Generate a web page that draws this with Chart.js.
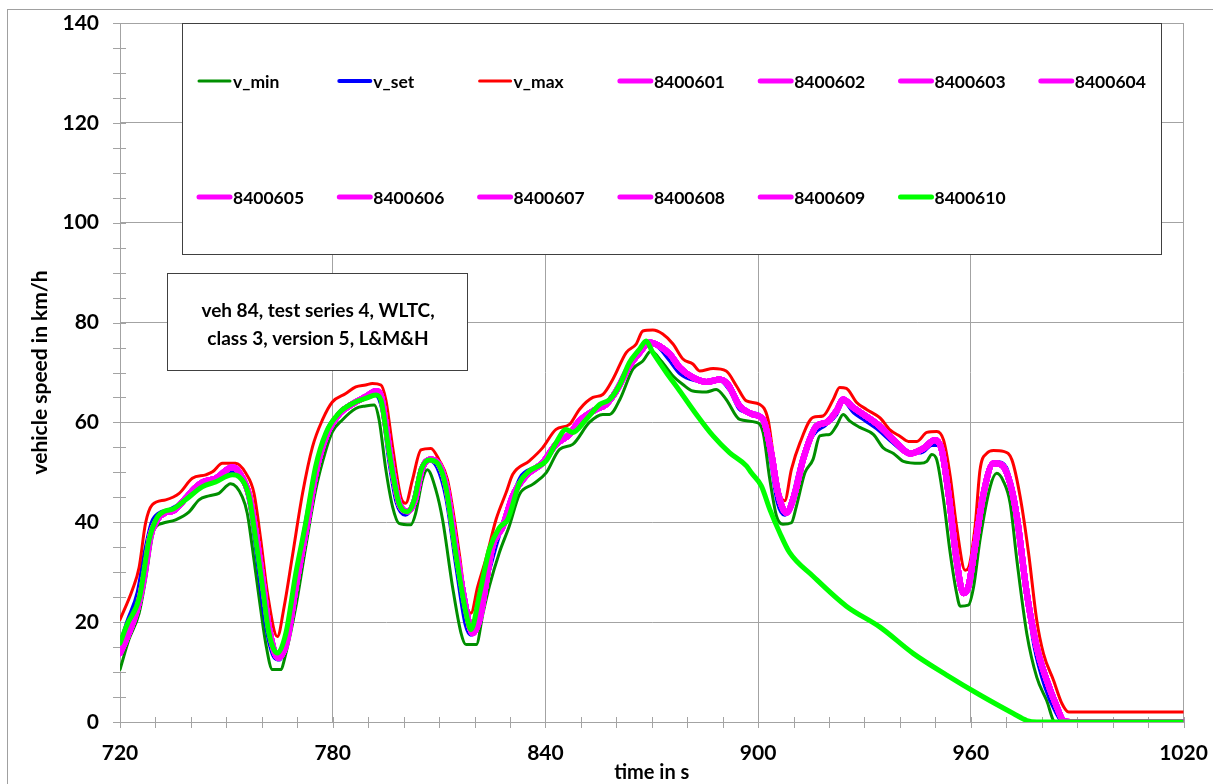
<!DOCTYPE html>
<html>
<head>
<meta charset="utf-8">
<title>veh 84 WLTC speed</title>
<script src="https://cdn.jsdelivr.net/npm/chart.js@4.4.1/dist/chart.umd.min.js"></script>
<style>
  html, body { margin: 0; padding: 0; background: #fff; }
  canvas { display: block; }
</style>
</head>
<body>
<canvas id="speedChart" width="1213" height="784"></canvas>
<script>
// values (time in s, speed in km/h)
const vMinT = [720, 722.5, 725.4, 727.2, 729.6, 732, 735.7, 739.5, 742.3, 745.1, 747.9, 751.2, 754.5, 755.9, 757.3, 759.2, 761.1, 763, 765.3, 766.8, 769.6, 772.4, 775.2, 778.1, 779.9, 782.7, 786.5, 789.3, 791.7, 793.1, 795, 796.9, 798.7, 802, 803.4, 805.3, 806.7, 809.1, 811, 813.8, 816.2, 817.6, 820.5, 822.4, 824.2, 827, 829.8, 832.7, 836.4, 840.2, 844, 847.7, 852.4, 856.2, 858.1, 861, 864.7, 867.5, 869.8, 872.7, 876, 878.8, 881.6, 885.4, 888.2, 891, 894.8, 899.5, 901.4, 903.3, 905.2, 907, 909.4, 910.8, 913.2, 915.5, 917.4, 920.2, 922.1, 924, 925.8, 928.7, 932.5, 935.3, 938.2, 941, 945.7, 947.6, 949, 950.4, 952.3, 954.2, 956, 957, 959.3, 960.8, 962.6, 965.5, 967.3, 969.2, 971.1, 973, 975.8, 978.6, 981.4, 983.8, 1020];
const vMinV = [10.5, 16.5, 21.8, 28.5, 38.5, 39.8, 40.5, 42.1, 44.5, 45.3, 45.8, 47.7, 45.1, 41.8, 35.1, 25.1, 15.8, 10.5, 10.5, 13.8, 23.1, 35.1, 46.5, 54.5, 58.1, 60.5, 62.8, 63.3, 63.5, 60.5, 50.5, 43.1, 39.8, 39.5, 41.8, 48.5, 50.5, 46.5, 40.5, 27.1, 17.8, 15.5, 15.5, 21.8, 27.2, 33.9, 39.2, 45.6, 47.6, 49.9, 54.6, 55.6, 60, 61.6, 61.6, 64.6, 70.7, 72.3, 74.3, 72.3, 69.3, 67.6, 66.3, 66.1, 66.6, 64.6, 60.6, 60, 58, 48.6, 41.2, 39.6, 39.9, 43.2, 49.9, 52.6, 57.3, 57.6, 59.3, 61.6, 60.3, 59, 57.6, 54.9, 53.8, 52.2, 51.8, 52.2, 53.6, 52.5, 44.5, 33.8, 25.8, 23.2, 23.4, 27.1, 36.5, 47.2, 49.8, 48.2, 43.8, 32.4, 17.7, 9, 4.3, 0, 0];

const vSetT = [720, 722, 725, 727, 729, 731, 734, 738, 742, 746, 750, 752.5, 755, 757, 759, 761, 763.5, 765, 767, 770, 773, 776, 779, 782, 786, 790, 792, 794, 796, 798, 800.5, 802.5, 804.5, 807, 809.5, 812, 815, 817.5, 819, 821, 824, 827, 830, 833, 837, 840, 844, 847, 850, 854, 857, 860, 863, 866, 869, 872, 875, 878, 882, 886, 889, 892, 895, 899, 901.5, 903.5, 905.5, 907.5, 909.5, 912, 915.5, 919, 922, 924, 927, 930, 934, 938, 942, 946, 949, 951, 953, 955.5, 957.5, 959, 961, 963, 965.5, 968, 970.5, 973, 975.5, 978, 981, 984, 986, 1020];
const vSetV = [15.5, 20, 26, 34, 40, 41.8, 42.5, 44.3, 47, 48.5, 49.8, 50.2, 48, 42, 31, 20, 13, 12.5, 18, 30, 42.5, 53, 59.3, 61.8, 64, 65, 65.5, 62.5, 52, 44, 41.5, 43.5, 49.5, 52.5, 51, 45, 30.5, 19.5, 17.5, 22, 30, 37.5, 43.5, 49, 51, 52.5, 56.5, 57.5, 60.5, 62.8, 63.5, 66.5, 70.5, 73.5, 76, 75, 72.5, 69.8, 68.5, 68.3, 68.5, 66.5, 62.5, 61.8, 60.3, 53, 44, 41.5, 44.5, 51.5, 57.5, 59.5, 61.5, 64.3, 62, 60.5, 58.5, 56, 54, 54, 55.5, 55.5, 48, 34, 26, 26, 33, 44, 51, 52, 50, 41, 27, 15, 7, 2, 0, 0];

const vMaxT = [720, 723.5, 725.4, 727.2, 729.1, 732.9, 736.7, 740.4, 744.2, 746.1, 748.9, 752.6, 755.5, 757.8, 759.7, 761.6, 764.4, 766.3, 768.6, 771.5, 774.3, 777.1, 779.9, 783.7, 786.5, 789.3, 791.2, 793.6, 795, 796.9, 799.2, 800.6, 802.5, 804.9, 807.7, 810, 812.4, 815.7, 817.6, 819, 820.9, 823.2, 826.1, 828.9, 830.8, 835.5, 839.2, 843, 846.8, 849.6, 853.4, 856.2, 859, 862.8, 865.6, 867.5, 870.3, 873.1, 876, 878.8, 881.6, 883.5, 887.3, 891, 893.9, 896.7, 900.5, 902.8, 904.2, 906.1, 907.5, 909.4, 911.8, 915.5, 918.3, 921.2, 923, 924.9, 927.8, 930.6, 934.4, 937.2, 940.1, 942.4, 944.8, 947.6, 950.4, 952.3, 954.2, 956, 958.4, 959.3, 961.2, 962.6, 964.5, 966.4, 969.2, 971.6, 973.9, 976.3, 978.6, 980.5, 983.3, 985.7, 987.6, 1020];
const vMaxV = [20.5, 26.5, 31, 39.8, 43.5, 44.5, 45.8, 48.8, 49.5, 50.1, 51.8, 51.8, 49.8, 45.8, 36.5, 25.8, 17.1, 23.1, 33.1, 45.8, 55.1, 60.5, 64.1, 65.8, 67.1, 67.5, 67.8, 67.5, 64.5, 55.1, 45.1, 43.8, 48.5, 54.5, 54.8, 52.5, 48.5, 33.8, 23.8, 21.8, 27.1, 32.6, 40.6, 45.9, 49.6, 52.3, 54.9, 58.6, 59.6, 62.6, 65, 65.6, 68.6, 74, 75.7, 78.3, 78.5, 77.7, 75.7, 72.7, 71.7, 70.3, 70.8, 70.3, 67.3, 64.3, 63.6, 60.6, 53.9, 45.9, 44.3, 50.6, 55.9, 61, 61.3, 64.6, 67, 66.8, 64, 62.6, 60.9, 58.5, 57.2, 56.2, 56.2, 58, 58.2, 56.5, 49.2, 39.1, 30.4, 30.8, 39.1, 50.5, 53.8, 54.4, 54.2, 52.5, 45.2, 33.8, 20.4, 13.7, 8.4, 3.7, 2, 2];

// test runs 8400601 ... 8400609 lie on top of each other in the picture
const runT = [720, 722, 725, 727, 728.5, 730.5, 733, 735, 738.5, 741, 743.2, 747, 751.7, 753.6, 756.4, 758.3, 760.2, 762, 764.6, 767, 769.8, 772.6, 775.4, 778.3, 782, 785.8, 789.5, 792.2, 793.8, 795.6, 797.1, 798.9, 801.3, 803.2, 805.1, 807.4, 809.8, 812.1, 814.9, 817.8, 819.4, 821.4, 825.1, 828, 830.8, 834.5, 839.2, 843, 846.8, 849.6, 854.3, 857.1, 860, 863.7, 866.6, 869.4, 872.2, 875.1, 877.9, 881.6, 885.4, 889.2, 891.5, 894.8, 898.6, 901.4, 903.7, 905.6, 908, 910.4, 912.7, 916.5, 919.3, 922.1, 924, 926.8, 929.7, 934.4, 938.2, 942.9, 946.6, 949.9, 951.8, 953.7, 956, 957.9, 959.3, 961.2, 963.6, 966.4, 968.7, 971.1, 973, 975.8, 978.6, 981.4, 984.3, 986.1, 988, 1020];
const runV = [13.8, 17, 23, 30, 37, 40.5, 42, 42.3, 44.8, 46.8, 48, 48.8, 51, 50, 45.5, 38, 28.5, 19, 12.8, 16, 28, 39, 50.5, 57.5, 61.8, 63.8, 65.2, 66.3, 64.8, 56.5, 49.5, 43.5, 42.2, 44.5, 50.5, 52.6, 51.8, 47, 34, 22, 17.8, 20.5, 35.2, 39.2, 45.3, 49.3, 51.9, 55.6, 57.6, 60.3, 62.6, 63.6, 66.3, 71.3, 74, 76, 75.3, 73.7, 71, 69, 68.1, 68.6, 67.6, 63.3, 61.6, 60.6, 53.9, 45.9, 41.9, 45.9, 52.6, 59.3, 60, 62.3, 64.6, 63, 61.6, 59.2, 56.5, 53.8, 54.8, 56.5, 54.5, 45.8, 32.4, 25.8, 27.1, 35.1, 45.8, 51.8, 51.5, 47.8, 41.1, 25.8, 15, 8.4, 3, 0.3, 0, 0];
const runNames = ['8400601', '8400602', '8400603', '8400604', '8400605', '8400606', '8400607', '8400608', '8400609'];

const run10T = [720, 722, 725.5, 728.2, 730.5, 732.9, 734.8, 738.5, 743.2, 747, 751.7, 753.6, 756.4, 758.3, 760.2, 762, 764.4, 766.8, 769.6, 772.4, 775.2, 778.1, 781.8, 785.6, 789.3, 792.2, 793.6, 795.4, 796.9, 798.7, 801.1, 803, 804.9, 807.2, 809.6, 811.9, 814.7, 817.6, 819, 821.4, 824.2, 827, 829.4, 832.7, 835.5, 840.2, 843, 845.8, 847.7, 851.5, 855.3, 858.1, 861, 863.7, 866.6, 868.4, 870.3, 874.1, 877.9, 882.6, 887.3, 892, 896.7, 898.1, 900.9, 903.3, 906.1, 908.9, 915.5, 924.9, 934.4, 943.8, 953.2, 962.6, 972, 975.8, 978.6, 1020];
const run10V = [15.8, 19.5, 25, 36.5, 41, 42.3, 42.6, 44.5, 47.1, 48.1, 49.5, 49.1, 45.1, 36.5, 27, 17.8, 13.8, 17.8, 29.8, 39.9, 51.2, 57.9, 61.9, 63.8, 64.8, 65.5, 64.5, 56.5, 49.9, 43.8, 42.1, 44.5, 50.5, 52.5, 51.8, 47.1, 33.8, 21.8, 18.5, 25.5, 34.6, 38.9, 40.6, 47.9, 50.3, 52.3, 55.9, 58.6, 58, 60.6, 63.6, 64.6, 67.6, 72, 74.7, 76.3, 74, 70, 66.3, 61.6, 57.3, 53.9, 51.3, 49.9, 47.3, 42.6, 37.9, 33.9, 29.2, 23.2, 19, 13.7, 9.4, 5.4, 1.7, 0.3, 0, 0];

const noteLines = ['veh 84, test series 4, WLTC,', 'class 3, version 5, L&M&H'];

const GRID = '#a3a3a3';
const FONT = 'Lato';

function pts(ts, vs) {
    return ts.map((t, i) => ({ x: t, y: vs[i] }));
}

const datasets = [
    { label: 'v_min', data: pts(vMinT, vMinV), borderColor: '#008f00', borderWidth: 3 },
    { label: 'v_set', data: pts(vSetT, vSetV), borderColor: '#0000ff', borderWidth: 4 },
    { label: 'v_max', data: pts(vMaxT, vMaxV), borderColor: '#ff0000', borderWidth: 3 }
];
runNames.forEach(name => {
    datasets.push({ label: name, data: pts(runT, runV), borderColor: '#ff00ff', borderWidth: 6 });
});
datasets.push({ label: '8400610', data: pts(run10T, run10V), borderColor: '#00ff00', borderWidth: 5 });
// later series on top, like the spreadsheet
datasets.forEach((d, i) => { d.order = datasets.length - i; d.fill = false; });

// chart frame, white background
const framePlugin = {
    id: 'frame',
    beforeDraw(chart) {
        const ctx = chart.ctx;
        ctx.save();
        ctx.fillStyle = '#fff';
        ctx.fillRect(0, 0, chart.width, chart.height);
        ctx.strokeStyle = '#a0a0a0';
        ctx.lineWidth = 1;
        ctx.strokeRect(7.5, 9.5, chart.width + 20, chart.height + 20);
        ctx.restore();
    }
};

// small tick marks crossing both axes
const tickMarks = {
    id: 'tickMarks',
    beforeDatasetsDraw(chart) {
        const { ctx, chartArea } = chart;
        const xs = chart.scales.x, ys = chart.scales.y;
        ctx.save();
        ctx.strokeStyle = GRID;
        ctx.lineWidth = 1;
        ctx.beginPath();
        xs.ticks.forEach(t => {
            const px = Math.round(xs.getPixelForValue(t.value)) + 0.5;
            ctx.moveTo(px, chartArea.bottom - 5);
            ctx.lineTo(px, chartArea.bottom + 6);
        });
        ys.ticks.forEach(t => {
            const py = Math.round(ys.getPixelForValue(t.value)) + 0.5;
            ctx.moveTo(chartArea.left - 7, py);
            ctx.lineTo(chartArea.left + 6, py);
        });
        ctx.stroke();
        ctx.restore();
    }
};

// legend box and the text box inside the plot
const boxes = {
    id: 'boxes',
    afterDraw(chart) {
        const ctx = chart.ctx;
        ctx.save();
        // legend
        ctx.fillStyle = '#fff';
        ctx.fillRect(182.5, 23.5, 979, 231);
        ctx.strokeStyle = '#404040';
        ctx.lineWidth = 1;
        ctx.strokeRect(182.5, 23.5, 979, 231);
        ctx.font = 'bold 17.5px ' + FONT;
        ctx.textBaseline = 'middle';
        ctx.textAlign = 'left';
        chart.data.datasets.forEach((d, i) => {
            const col = i % 7, row = Math.floor(i / 7);
            const x0 = 198 + col * 140.3;
            const y0 = row === 0 ? 81 : 197;
            ctx.strokeStyle = d.borderColor;
            ctx.lineWidth = Math.min(d.borderWidth, 5);
            ctx.lineCap = 'round';
            ctx.beginPath();
            ctx.moveTo(x0 + 1, y0);
            ctx.lineTo(x0 + 32, y0);
            ctx.stroke();
            ctx.fillStyle = '#000';
            ctx.fillText(d.label, x0 + 35, y0 + 1);
        });
        // note box
        ctx.fillStyle = '#fff';
        ctx.fillRect(167.5, 273.5, 300, 97);
        ctx.strokeStyle = '#404040';
        ctx.lineWidth = 1;
        ctx.strokeRect(167.5, 273.5, 300, 97);
        ctx.fillStyle = '#000';
        ctx.font = 'bold 19px ' + FONT;
        ctx.textAlign = 'center';
        noteLines.forEach((s, i) => ctx.fillText(s, 318, 311 + i * 28));
        ctx.restore();
    }
};

const tickFont = { family: FONT, weight: 'bold', size: 21 };

new Chart(document.getElementById('speedChart'), {
    type: 'line',
    data: { datasets: datasets },
    options: {
        responsive: false,
        animation: false,
        layout: { padding: { left: 0, right: 29.5, top: 23, bottom: 0 } },
        elements: {
            point: { radius: 0 },
            line: { cubicInterpolationMode: 'monotone', borderJoinStyle: 'round', borderCapStyle: 'round' }
        },
        plugins: {
            legend: { display: false },
            tooltip: { enabled: false }
        },
        scales: {
            x: {
                type: 'linear',
                min: 720,
                max: 1020,
                afterFit: s => { s.height = 62; },
                ticks: {
                    stepSize: 10,
                    autoSkip: false,
                    maxRotation: 0,
                    padding: 0,
                    color: '#000',
                    font: tickFont,
                    callback: v => (v % 60 === 0 ? v : '')
                },
                grid: {
                    drawTicks: true,
                    tickLength: 19,
                    tickColor: 'rgba(0,0,0,0)',
                    lineWidth: 1,
                    color: c => (c.tick && c.tick.value % 60 === 0 ? GRID : 'rgba(0,0,0,0)')
                },
                border: { color: GRID },
                title: { display: true, text: 'time in s', color: '#000', font: { family: FONT, weight: 'bold', size: 20 }, padding: { top: 0, bottom: -1 } }
            },
            y: {
                min: 0,
                max: 140,
                afterFit: s => { s.width = 120; },
                ticks: {
                    stepSize: 5,
                    autoSkip: false,
                    padding: 0,
                    color: '#000',
                    font: tickFont,
                    callback: v => (v % 20 === 0 ? v : '')
                },
                grid: {
                    drawTicks: true,
                    tickLength: 21,
                    tickColor: 'rgba(0,0,0,0)',
                    lineWidth: 1,
                    color: c => (c.tick && c.tick.value % 20 === 0 ? GRID : 'rgba(0,0,0,0)')
                },
                border: { color: GRID },
                title: { display: true, text: 'vehicle speed in km/h', color: '#000', font: { family: FONT, weight: 'bold', size: 21 }, padding: { top: 28, bottom: 0 } }
            }
        }
    },
    plugins: [framePlugin, tickMarks, boxes]
});
</script>
</body>
</html>
